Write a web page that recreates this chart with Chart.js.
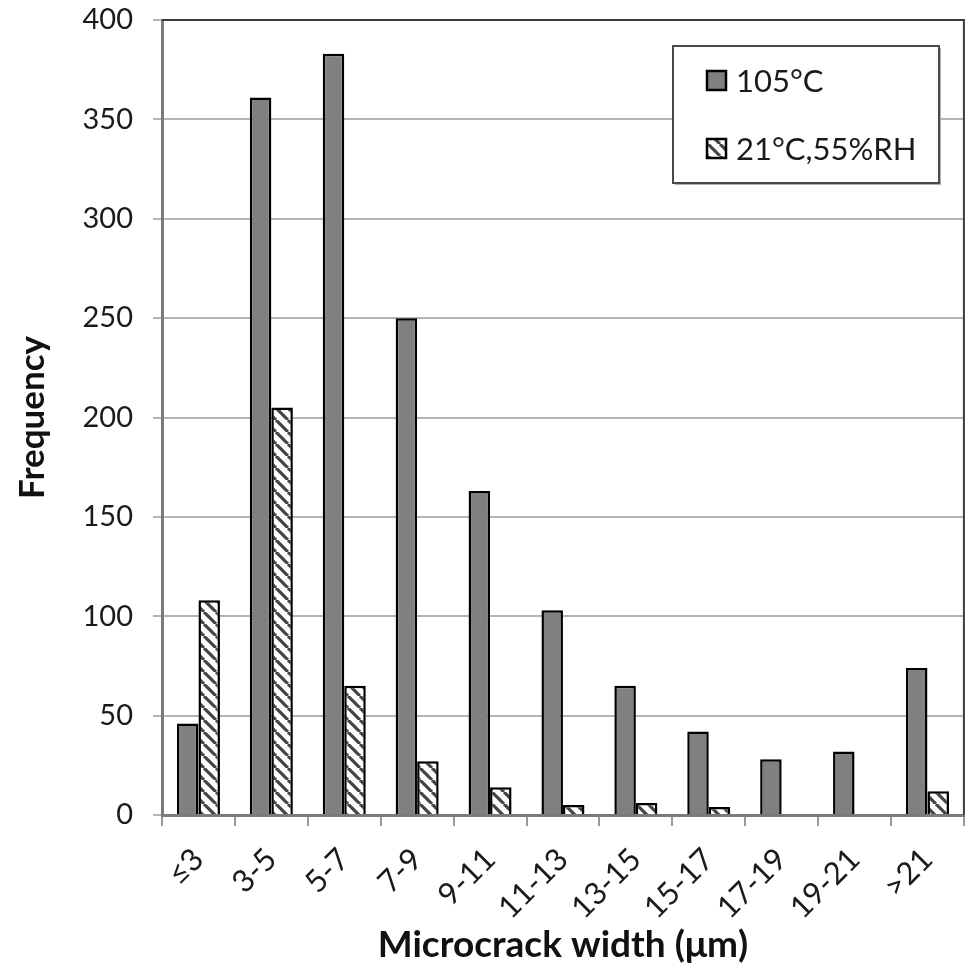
<!DOCTYPE html>
<html>
<head>
<meta charset="utf-8">
<script src="https://cdn.jsdelivr.net/npm/chart.js@4/dist/chart.umd.min.js"></script>
<style>
  html, body { margin: 0; padding: 0; background: #fff; }
  #wrap { width: 969px; height: 970px; }
</style>
</head>
<body>
<div id="wrap"><canvas id="crackChart" width="969" height="970"></canvas></div>
<script>
// Microcrack width classes and counts per curing condition
const widthClasses = ['≤3', '3-5', '5-7', '7-9', '9-11', '11-13', '13-15', '15-17', '17-19', '19-21', '>21'];
const oven105 = [46, 361, 383, 250, 163, 103, 65, 42, 28, 32, 74];
const room21 = [108, 205, 65, 27, 14, 5, 6, 4, 0, 0, 12];
const seriesNames = ['105°C', '21°C,55%RH'];
const yMin = 0, yMax = 400, yStep = 50;

const FONT = 'Lato, "Open Sans", sans-serif';

// Diagonal hatch fill for the second series
function makeHatch() {
    const s = 12;
    const c = document.createElement('canvas');
    c.width = s; c.height = s;
    const g = c.getContext('2d');
    g.fillStyle = '#ffffff';
    g.fillRect(0, 0, s, s);
    g.strokeStyle = '#454545';
    g.lineWidth = 3.2;
    g.beginPath();
    for (const k of [-s, 0, s]) {
        g.moveTo(k, 0);
        g.lineTo(k + s, s);
    }
    g.stroke();
    return g.createPattern(c, 'repeat');
}
const hatch = makeHatch();

// Top/right frame of the plot plus the boxed legend
const framePlugin = {
    id: 'frameAndLegend',
    afterDatasetsDraw(chart) {
        const ctx = chart.ctx;
        const a = chart.chartArea;
        ctx.save();
        ctx.strokeStyle = '#3c3c3c';
        ctx.lineWidth = 2;
        ctx.beginPath();
        ctx.moveTo(a.left, a.top);
        ctx.lineTo(a.right, a.top);
        ctx.lineTo(a.right, a.bottom);
        ctx.stroke();

        // legend box
        const bx = 673, by = 46, bw = 266, bh = 137;
        ctx.fillStyle = '#b0b0b0';
        ctx.fillRect(bx + 2, by + 2, bw, bh);
        ctx.fillStyle = '#ffffff';
        ctx.fillRect(bx, by, bw, bh);
        ctx.strokeStyle = '#4a4a4a';
        ctx.lineWidth = 2;
        ctx.strokeRect(bx, by, bw, bh);

        const rows = [81, 149];
        chart.data.datasets.forEach((ds, i) => {
            const cy = rows[i];
            ctx.fillStyle = ds.backgroundColor;
            ctx.fillRect(707, cy - 10, 19, 19);
            ctx.strokeStyle = '#000';
            ctx.lineWidth = 2.5;
            ctx.strokeRect(707, cy - 10, 19, 19);
            ctx.fillStyle = '#1a1a1a';
            ctx.font = '31px ' + FONT;
            ctx.textBaseline = 'middle';
            ctx.textAlign = 'left';
            ctx.fillText(ds.label, 736, cy + 1);
        });
        ctx.restore();
    }
};

new Chart(document.getElementById('crackChart'), {
    type: 'bar',
    data: {
        labels: widthClasses,
        datasets: [
            {
                label: seriesNames[0],
                data: oven105,
                backgroundColor: '#808080',
                borderColor: '#000000',
                borderWidth: 2.5,
                barPercentage: 1.0,
                categoryPercentage: 0.59
            },
            {
                label: seriesNames[1],
                data: room21,
                backgroundColor: hatch,
                borderColor: '#000000',
                borderWidth: 2.5,
                barPercentage: 1.0,
                categoryPercentage: 0.59
            }
        ]
    },
    options: {
        responsive: false,
        animation: false,
        devicePixelRatio: 1,
        layout: { padding: { top: 0, right: 5, left: 0, bottom: 0 } },
        plugins: {
            legend: { display: false },
            tooltip: { enabled: false }
        },
        scales: {
            x: {
                afterFit(scale) { scale.height = 155; },
                grid: {
                    display: true,
                    drawOnChartArea: false,
                    drawTicks: true,
                    tickLength: 11,
                    color: '#9a9a9a',
                    lineWidth: 2
                },
                border: { display: true, color: '#7a7a7a', width: 3 },
                ticks: {
                    minRotation: 45,
                    maxRotation: 45,
                    padding: 15,
                    color: '#1a1a1a',
                    font: { family: FONT, size: 31 }
                },
                title: {
                    display: true,
                    text: 'Microcrack width (μm)',
                    color: '#111',
                    font: { family: FONT, size: 37, weight: 'bold' },
                    padding: { top: 0, bottom: 3 }
                }
            },
            y: {
                min: yMin,
                max: yMax,
                afterFit(scale) {
                    scale.width = 162;
                    scale.paddingTop = 20;
                    scale.paddingBottom = 0;
                },
                ticks: {
                    stepSize: yStep,
                    padding: 20,
                    color: '#1a1a1a',
                    font: { family: FONT, size: 29 }
                },
                grid: {
                    color: '#b4b4b4',
                    lineWidth: 2,
                    tickLength: 9
                },
                border: { display: true, color: '#7a7a7a', width: 3 },
                title: {
                    display: true,
                    text: 'Frequency',
                    color: '#111',
                    font: { family: FONT, size: 35, weight: 'bold' },
                    padding: { top: 12, bottom: 0 }
                }
            }
        }
    },
    plugins: [framePlugin]
});
</script>
</body>
</html>
